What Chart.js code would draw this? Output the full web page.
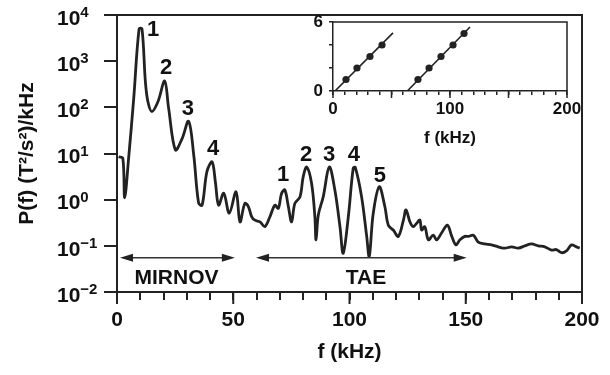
<!DOCTYPE html>
<html>
<head>
<meta charset="utf-8">
<script src="https://cdn.jsdelivr.net/npm/chart.js@4.4.1/dist/chart.umd.min.js"></script>
<style>
  body { margin: 0; background: #fff; }
  #wrap { position: relative; width: 610px; height: 375px; }
  #main { position: absolute; left: 0; top: 0; }
  #inset { position: absolute; left: 300px; top: 0; }
</style>
</head>
<body>
<div id="wrap">
  <canvas id="main" width="610" height="375"></canvas>
  <canvas id="inset" width="310" height="160"></canvas>
</div>
<script>
// --- Spectrum data ---
const freq = [0.7, 2.5, 3.3, 5.0, 7.2, 9.5, 10.75, 12.2, 13.3, 15.0, 17.6, 20.5, 22.2, 25.1, 28.0, 30.8, 33.0,
  35.1, 36.6, 38.7, 40.9, 42.3, 43.7, 45.9, 48.3, 51.2, 52.9, 55.0, 56.5, 57.9, 59.3, 61.5, 63.6, 65.8, 67.9,
  69.4, 70.8, 72.2, 73.7, 75.1, 76.5, 78.7, 80.1, 81.6, 83.7, 85.1, 85.6, 86.6, 88.7, 91.3, 93.7, 95.9, 97.3,
  99.5, 101.6, 102.5, 105.2, 107.4, 108.5, 110.2, 112.8, 115.2, 116.7, 118.8, 121.0, 123.2, 124.3, 126.0,
  127.4, 128.9, 130.3, 131.0, 132.4, 133.9, 136.0, 137.5, 139.6, 142.1, 144.0, 145.8, 147.5, 149.6, 151.1,
  153.3, 155.4, 158.2, 161.1, 164.0, 166.8, 169.7, 172.6, 175.4, 178.3, 181.2, 184.0, 186.9, 189.0, 191.2,
  193.3, 195.5, 197.6, 199.0];
const power = [8.5, 7.9, 1.1, 7.9, 158, 5000, 5000, 363, 132, 81, 132, 372, 96, 12, 21, 50, 9.3,
  0.85, 0.76, 4.1, 6.6, 2.45, 0.76, 1.38, 0.51, 1.48, 0.33, 0.83, 0.71, 0.43, 0.36, 0.33, 0.26, 0.43, 0.76,
  0.65, 1.38, 1.62, 0.71, 0.33, 0.83, 1.15, 3.16, 5.1, 2.24, 0.43, 0.135, 0.47, 1.15, 5.1, 1.62, 0.26, 0.069,
  0.43, 4.8, 5.0, 1.15, 0.16, 0.059, 0.50, 1.9, 0.71, 0.28, 0.22, 0.16, 0.36, 0.60, 0.33,
  0.26, 0.31, 0.36, 0.22, 0.26, 0.135, 0.17, 0.135, 0.19, 0.28, 0.16, 0.105, 0.135, 0.16, 0.16,
  0.17, 0.12, 0.11, 0.105, 0.095, 0.089, 0.095, 0.089, 0.10, 0.11, 0.10, 0.095, 0.081, 0.083, 0.071,
  0.078, 0.105, 0.095, 0.089];

const yDecades = [0.01, 0.1, 1, 10, 100, 1000, 10000];
const yExponents = ["−2", "−1", "0", "1", "2", "3", "4"];
const xMajor = [0, 50, 100, 150, 200];

// peak numbers, placed in data coordinates
const mirnovLabels = ["1", "2", "3", "4"];
const mirnovLabelF = [15.5, 21.1, 30.5, 41.3];
const mirnovLabelP = [4730, 730, 94, 12.8];
const taeLabels = ["1", "2", "3", "4", "5"];
const taeLabelF = [71.4, 81.3, 91.2, 101.9, 113.1];
const taeLabelP = [3.43, 9.5, 9.5, 9.3, 3.34];

// frequency ranges marked by the arrows
const mirnovRange = [1.3, 50.7];
const taeRange = [59.8, 150.4];
const arrowLevel = 0.055;
const rangeTextLevel = 0.0196;
const mirnovTextF = 25.6;
const taeTextF = 107.1;

// --- Inset: mode number vs frequency ---
const mirnovModeF = [11.1, 20.5, 31.6, 41.9];
const mirnovModeN = [1, 2, 3, 4];
const taeModeF = [72.6, 82.1, 92.3, 102.6, 112.0];
const taeModeN = [1, 2, 3, 4, 5];
const fitLine1F = [1.7, 51.3];
const fitLine1N = [0, 5.05];
const fitLine2F = [63.5, 117.1];
const fitLine2N = [0, 5.57];
const insetYTicks = [0, 2, 4, 6];

const FONT = "'Liberation Sans', Arial, Helvetica, sans-serif";
const INK = "#222";

const pairs = (xs, ys) => xs.map((x, i) => ({ x: x, y: ys[i] }));

// --- Main chart extras: frame, superscript y labels, arrows, text ---
const mainDecor = {
  id: "mainDecor",
  afterDraw(chart) {
    const ctx = chart.ctx;
    const a = chart.chartArea;
    const xs = chart.scales.x, ys = chart.scales.y;
    ctx.save();
    ctx.strokeStyle = INK;
    ctx.lineWidth = 2;
    // top and right edge of the frame
    ctx.beginPath();
    ctx.moveTo(a.left, a.top);
    ctx.lineTo(a.right, a.top);
    ctx.lineTo(a.right, a.bottom);
    ctx.stroke();
    // longer major x ticks
    ctx.beginPath();
    xMajor.forEach(v => {
      const px = xs.getPixelForValue(v);
      ctx.moveTo(px, a.bottom);
      ctx.lineTo(px, a.bottom + 12);
    });
    ctx.stroke();

    // y tick labels with superscript exponents
    ctx.fillStyle = "#111";
    ctx.textBaseline = "middle";
    ctx.textAlign = "left";
    yDecades.forEach((v, i) => {
      const py = ys.getPixelForValue(v);
      ctx.font = "bold 21px " + FONT;
      ctx.fillText("10", 57, py + 4);
      const w = ctx.measureText("10").width;
      ctx.font = "bold 15px " + FONT;
      ctx.fillText(yExponents[i], 57 + w, py - 2);
    });

    // range arrows
    ctx.lineWidth = 1.6;
    ctx.strokeStyle = "#333";
    ctx.fillStyle = "#222";
    const ay = ys.getPixelForValue(arrowLevel);
    [mirnovRange, taeRange].forEach(r => {
      const x0 = xs.getPixelForValue(r[0]);
      const x1 = xs.getPixelForValue(r[1]);
      ctx.beginPath();
      ctx.moveTo(x0 + 6, ay);
      ctx.lineTo(x1 - 6, ay);
      ctx.stroke();
      ctx.beginPath();
      ctx.moveTo(x0, ay); ctx.lineTo(x0 + 13, ay - 4); ctx.lineTo(x0 + 13, ay + 4); ctx.closePath();
      ctx.moveTo(x1, ay); ctx.lineTo(x1 - 13, ay - 4); ctx.lineTo(x1 - 13, ay + 4); ctx.closePath();
      ctx.fill();
    });

    ctx.fillStyle = "#111";
    ctx.textAlign = "center";
    ctx.font = "bold 21px " + FONT;
    const ty = ys.getPixelForValue(rangeTextLevel);
    ctx.fillText("MIRNOV", xs.getPixelForValue(mirnovTextF), ty);
    ctx.fillText("TAE", xs.getPixelForValue(taeTextF), ty);

    // peak numbers
    ctx.font = "bold 22px " + FONT;
    mirnovLabels.forEach((t, i) => {
      ctx.fillText(t, xs.getPixelForValue(mirnovLabelF[i]), ys.getPixelForValue(mirnovLabelP[i]));
    });
    taeLabels.forEach((t, i) => {
      ctx.fillText(t, xs.getPixelForValue(taeLabelF[i]), ys.getPixelForValue(taeLabelP[i]));
    });
    ctx.restore();
  }
};

new Chart(document.getElementById("main"), {
  type: "line",
  data: {
    datasets: [{
      data: pairs(freq, power),
      borderColor: INK,
      borderWidth: 2.8,
      pointRadius: 0,
      tension: 0.35,
      fill: false
    }]
  },
  options: {
    responsive: false,
    animation: false,
    layout: { padding: { top: 15, right: 28, left: 0, bottom: 0 } },
    plugins: { legend: { display: false }, tooltip: { enabled: false } },
    scales: {
      x: {
        type: "linear", min: 0, max: 200,
        afterFit: s => { s.height = 83; },
        ticks: {
          stepSize: 10, autoSkip: false, maxRotation: 0, padding: 8, color: "#111",
          font: { family: FONT, size: 21, weight: "bold" },
          callback: v => (v % 50 === 0 ? v : "")
        },
        grid: { drawOnChartArea: false, tickLength: 8, color: INK, lineWidth: 2 },
        border: { color: INK, width: 2 },
        title: {
          display: true, text: "f (kHz)", color: "#111",
          font: { family: FONT, size: 21, weight: "bold" },
          padding: { top: 0, bottom: 10 }
        }
      },
      y: {
        type: "logarithmic", min: 0.01, max: 10000,
        afterFit: s => { s.width = 117; },
        afterBuildTicks: s => { s.ticks = yDecades.map(v => ({ value: v })); },
        ticks: { display: false },
        grid: { drawOnChartArea: false, tickLength: 13, color: INK, lineWidth: 2 },
        border: { color: INK, width: 2 },
        title: {
          display: true, text: "P(f) (T²/s²)/kHz", color: "#111",
          font: { family: FONT, size: 21, weight: "bold" },
          padding: { top: 15, bottom: 0 }
        }
      }
    }
  },
  plugins: [mainDecor]
});

// --- Inset chart ---
const insetFrame = {
  id: "insetFrame",
  afterDraw(chart) {
    const ctx = chart.ctx;
    const a = chart.chartArea;
    const xs = chart.scales.x;
    ctx.save();
    ctx.strokeStyle = INK;
    ctx.lineWidth = 1.5;
    ctx.beginPath();
    ctx.moveTo(a.left, a.top);
    ctx.lineTo(a.right, a.top);
    ctx.lineTo(a.right, a.bottom);
    xMajor.forEach(v => {
      const px = xs.getPixelForValue(v);
      ctx.moveTo(px, a.bottom);
      ctx.lineTo(px, a.bottom + 7);
    });
    ctx.stroke();
    ctx.restore();
  }
};

new Chart(document.getElementById("inset"), {
  type: "scatter",
  data: {
    datasets: [
      { type: "line", data: pairs(fitLine1F, fitLine1N), borderColor: INK, borderWidth: 1.6, pointRadius: 0 },
      { type: "line", data: pairs(fitLine2F, fitLine2N), borderColor: INK, borderWidth: 1.6, pointRadius: 0 },
      { data: pairs(mirnovModeF, mirnovModeN), pointRadius: 3.6, backgroundColor: INK, borderWidth: 0 },
      { data: pairs(taeModeF, taeModeN), pointRadius: 3.6, backgroundColor: INK, borderWidth: 0 }
    ]
  },
  options: {
    responsive: false,
    animation: false,
    layout: { padding: { top: 22, right: 43, left: 0, bottom: 0 } },
    plugins: { legend: { display: false }, tooltip: { enabled: false } },
    scales: {
      x: {
        type: "linear", min: 0, max: 200,
        afterFit: s => { s.height = 69; },
        ticks: {
          stepSize: 10, autoSkip: false, maxRotation: 0, padding: 4, color: "#111",
          font: { family: FONT, size: 17, weight: "bold" },
          callback: v => (v % 100 === 0 ? v : "")
        },
        grid: { drawOnChartArea: false, tickLength: 4, color: INK, lineWidth: 1.5 },
        border: { color: INK, width: 1.5 },
        title: {
          display: true, text: "f (kHz)", color: "#111",
          font: { family: FONT, size: 17, weight: "bold" },
          padding: { top: 0, bottom: 11 }
        }
      },
      y: {
        type: "linear", min: 0, max: 6,
        afterFit: s => { s.width = 33; },
        afterBuildTicks: s => { s.ticks = insetYTicks.map(v => ({ value: v })); },
        ticks: {
          autoSkip: false, padding: 6, color: "#111",
          font: { family: FONT, size: 17, weight: "bold" },
          callback: v => (v === 0 || v === 6 ? String(v) : "")
        },
        grid: { drawOnChartArea: false, tickLength: 4, color: INK, lineWidth: 1.5 },
        border: { color: INK, width: 1.5 }
      }
    }
  },
  plugins: [insetFrame]
});
</script>
</body>
</html>
